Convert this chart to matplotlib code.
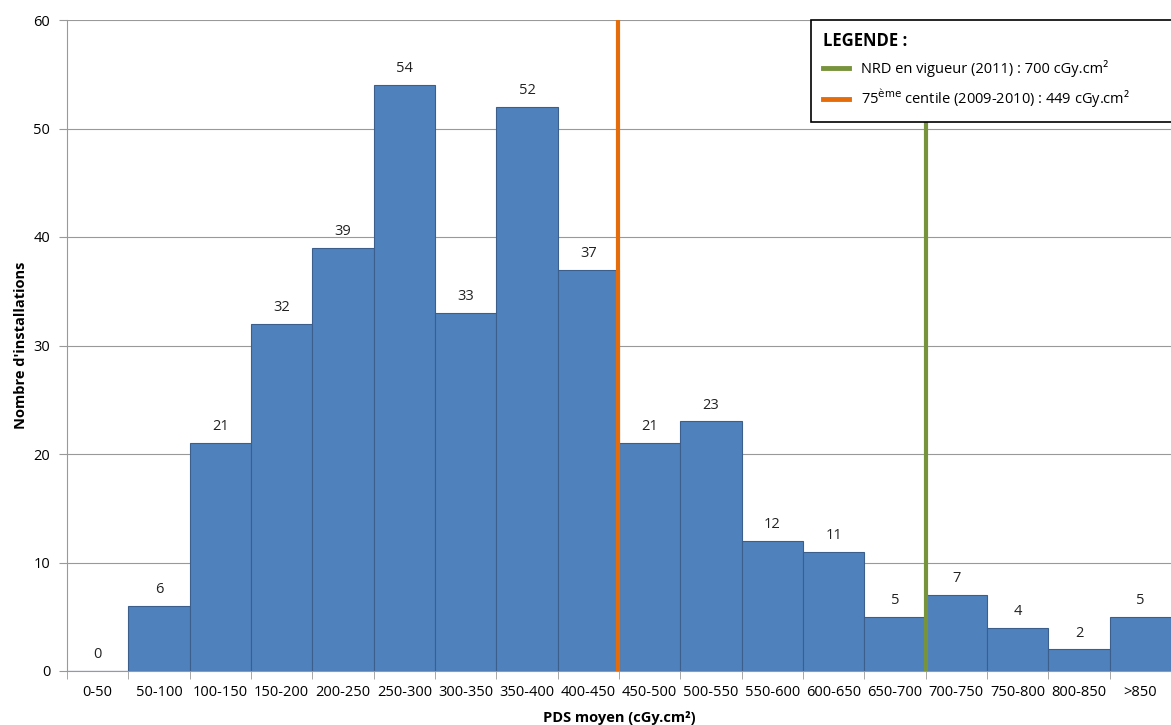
import matplotlib.pyplot as plt
from matplotlib.lines import Line2D
import numpy as np

plt.rcParams['font.family'] = ['Open Sans', 'DejaVu Sans']

# Histogramme PDS moyen
categories = ["0-50", "50-100", "100-150", "150-200", "200-250", "250-300", "300-350",
              "350-400", "400-450", "450-500", "500-550", "550-600", "600-650",
              "650-700", "700-750", "750-800", "800-850", ">850"]
counts = [0, 6, 21, 32, 39, 54, 33, 52, 37, 21, 23, 12, 11, 5, 7, 4, 2, 5]
nrd = 700        # cGy.cm²
centile75 = 449  # cGy.cm²
bin_width = 50

fig = plt.figure(figsize=(11.71, 7.25), dpi=100)
ax = fig.add_axes([67/1171, 1-671/725, 1-67/1171, (671-20)/725])

x = np.arange(len(categories))
ax.bar(x, counts, width=1.0, color="#4F81BD", edgecolor="#3B5E8C", linewidth=0.8, zorder=2)
for xi, c in zip(x, counts):
    ax.text(xi, c + 0.8, str(c), ha="center", va="bottom", fontsize=10.5, color="#222222")

# lignes de référence (en unités de classes)
ax.axvline(centile75 / bin_width - 0.5, color="#E46C0A", lw=3, zorder=3)
ax.axvline(nrd / bin_width - 0.5, color="#77933C", lw=3, zorder=3)

ax.set_xlim(-0.5, 17.33)
ax.set_ylim(0, 60)
ax.set_yticks(range(0, 61, 10))
ax.set_xticks(x)
ax.set_xticklabels(categories, fontsize=10.5)
ax.set_xticks(np.arange(-0.5, len(categories)), minor=True)
ax.tick_params(axis="x", which="major", length=0, pad=10)
ax.tick_params(axis="x", which="minor", length=6, color="#999999")
ax.tick_params(axis="y", length=6, color="#999999", labelsize=10.5, pad=6)
ax.grid(axis="y", color="#999999", lw=0.8, zorder=0)
for s in ["top", "right"]:
    ax.spines[s].set_visible(False)
ax.spines["left"].set_color("#999999")
ax.spines["bottom"].set_color("#999999")

ax.set_xlabel("PDS moyen (cGy.cm²)", fontsize=10.5, fontweight="bold", labelpad=8)
ax.set_ylabel("Nombre d'installations", fontsize=10.5, fontweight="bold", labelpad=4)

handles = [Line2D([], [], color="#77933C", lw=3.5),
           Line2D([], [], color="#E46C0A", lw=3.5)]
labels = ["NRD en vigueur (2011) : 700 cGy.cm²",
          "75$^{\\mathrm{ème}}$ centile (2009-2010) : 449 cGy.cm²"]
leg = fig.legend(handles, labels, loc="upper left",
                 bbox_to_anchor=(811/1171, 1-118/725, 420/1171, 98/725), mode="expand",
                 borderaxespad=0, title="LEGENDE :", fontsize=10.5, frameon=True,
                 fancybox=False, edgecolor="black", handlelength=1.8, handletextpad=0.8,
                 borderpad=0.8, labelspacing=0.7, alignment="left", framealpha=1)
leg.get_title().set_fontweight("bold")
leg.get_title().set_fontsize(12)
leg.get_frame().set_linewidth(1.2)

plt.savefig("out.png", dpi=100)
